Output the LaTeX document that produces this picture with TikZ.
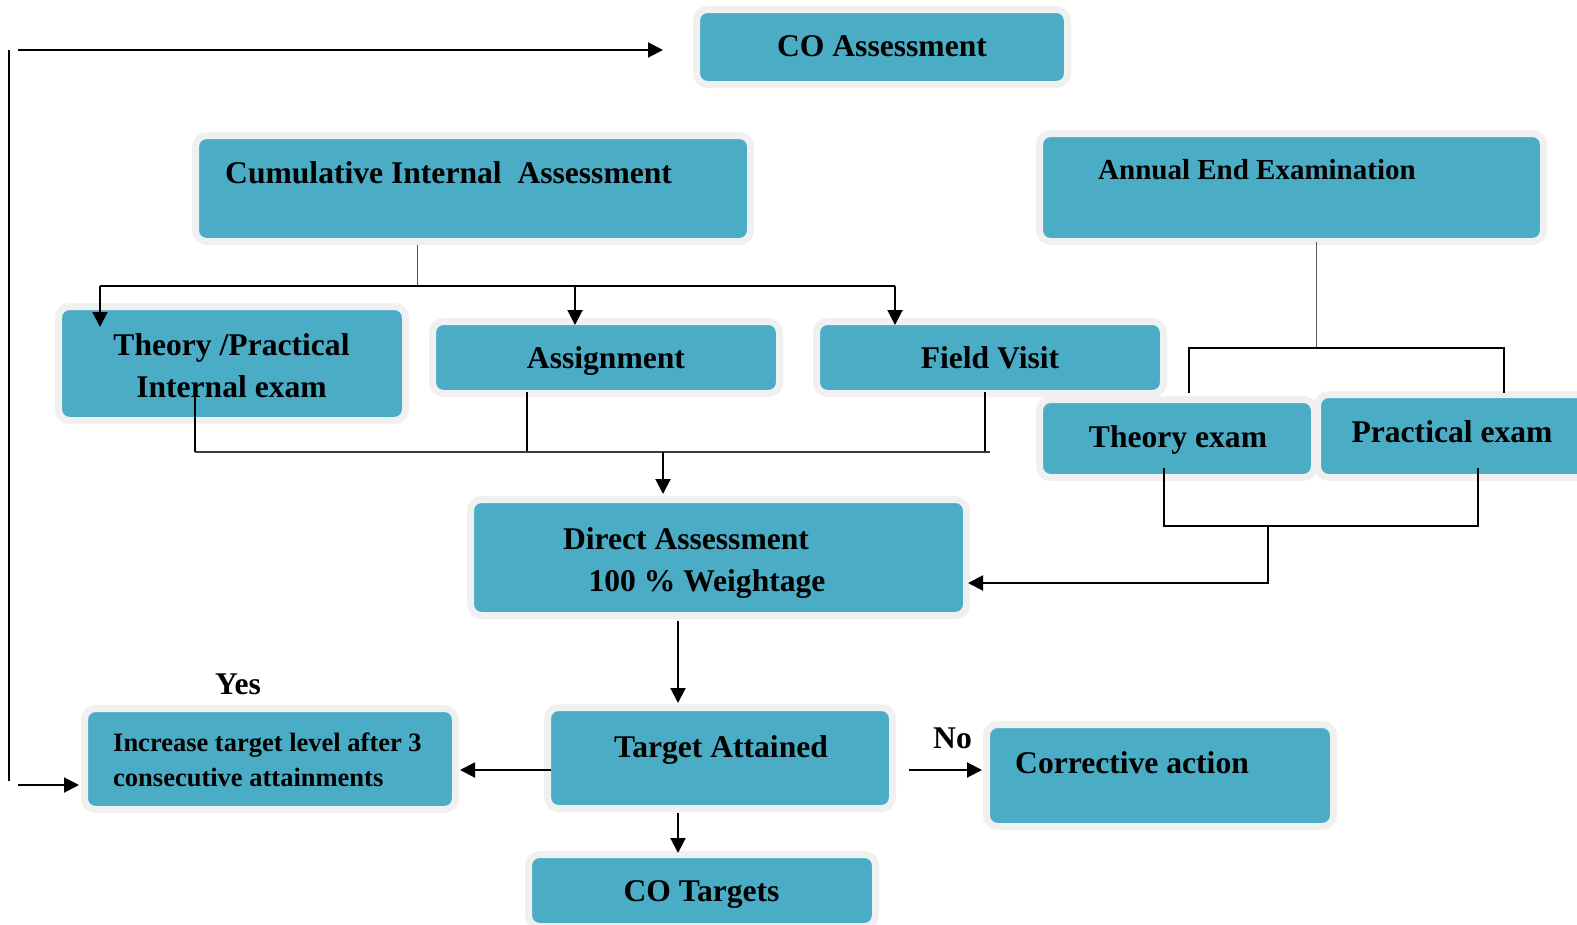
\documentclass[tikz,border=0pt]{standalone}
\usepackage{fontspec}
\setmainfont{Liberation Serif}
\usetikzlibrary{arrows.meta}

\definecolor{boxfill}{HTML}{4BACC6}
\definecolor{boxrim}{HTML}{F0F0F0}
\definecolor{stemgray}{HTML}{555555}
\definecolor{bargray}{HTML}{3A3A3A}

\tikzset{
  box/.style={draw=boxrim, fill=boxfill, line width=7pt, rounded corners=11pt,
              inner sep=0pt, outer sep=0pt},
  lbl/.style={font=\bfseries\fontsize{31.6}{36}\selectfont, inner sep=0pt, anchor=base},
  lblw/.style={lbl, anchor=base west},
  arr/.style={draw=black, line width=2pt, -{Triangle[length=15pt,width=15pt]}},
  bar/.style={draw=black, line width=2pt},
  drop/.style={draw=black, line width=1.5pt},
  stem/.style={draw=stemgray, line width=1pt},
  hub/.style={draw=bargray, line width=2pt},
}

% box from inner corner (x1,y1) to (x2,y2), rim drawn outside
\newcommand\flowbox[5]{%
  \node[box, minimum width={(#4)-(#2)+7}, minimum height={(#5)-(#3)+7}]
    (#1) at ({((#2)+(#4))/2},{((#3)+(#5))/2}) {};}

\begin{document}
\begin{tikzpicture}[x=1pt, y=-1pt]
\useasboundingbox (0,0) rectangle (1577,924);

% ---- boxes
\flowbox{co}{700}{13}{1064}{81}
\flowbox{cum}{199}{139}{747}{238}
\flowbox{ann}{1043}{137}{1540}{238}
\flowbox{tp}{62}{310}{402}{417}
\flowbox{asg}{436}{325}{776}{390}
\flowbox{fv}{820}{325}{1160}{390}
\flowbox{te}{1043}{403}{1311}{474}
\flowbox{pe}{1321}{398}{1610}{474}
\flowbox{da}{474}{503}{963}{612}
\flowbox{ta}{551}{711}{889}{805}
\flowbox{ca}{990}{728}{1330}{823}
\flowbox{inc}{88}{712}{452}{806}
\flowbox{cot}{532}{858}{872}{923}

% ---- texts
\node[lbl] (co-t) at (882,56) {CO Assessment};
\node[lblw] (cum-t) at (225,183.5) {Cumulative Internal\ \ Assessment};
\node[lblw, font=\bfseries\fontsize{29}{34}\selectfont] (ann-t) at (1098,179) {Annual End Examination};
\node[lbl] (tp-a) at (231.5,355) {Theory /Practical};
\node[lbl] (tp-b) at (231.5,397) {Internal exam};
\node[lbl] (asg-t) at (606,368.5) {Assignment};
\node[lbl] (fv-t) at (990,368.5) {Field Visit};
\node[lbl] (te-t) at (1178,447) {Theory exam};
\node[lbl] (pe-t) at (1452,442) {Practical exam};
\node[lbl] (da-a) at (686,549) {Direct Assessment};
\node[lbl] (da-b) at (707,591) {100 \% Weightage};
\node[lbl] (ta-t) at (721,757) {Target Attained};
\node[lblw] (ca-t) at (1015,773) {Corrective action};
\node[lblw, font=\bfseries\fontsize{26.5}{30}\selectfont] (inc-a) at (113,751) {Increase target level after 3};
\node[lblw, font=\bfseries\fontsize{26.5}{30}\selectfont] (inc-b) at (113,786) {consecutive attainments};
\node[lbl] (cot-t) at (701.5,901) {CO Targets};
\node[lblw] (yes) at (215,694) {Yes};
\node[lblw] (no) at (933,748) {No};

% ---- split below the internal assessment
\coordinate (cj) at (417,286);
\coordinate (cl) at (100,286);
\coordinate (cm) at (575,286);
\coordinate (cr) at (895,286);
\draw[stem] ([yshift=-3.5pt]cj |- cum.south) -- (cj);
\draw[bar] (cl) -- (cr);
\draw[arr] (cl) -- ([yshift=-20.5pt]cl |- tp.north);
\draw[arr] (cm) -- ([yshift=-3.5pt]cm |- asg.north);
\draw[arr] (cr) -- ([yshift=-3.5pt]cr |- fv.north);

% ---- merge into direct assessment
\coordinate (b1) at (195,452);
\coordinate (b2) at (527,452);
\coordinate (b3) at (985,452);
\coordinate (b4) at (990,452);
\coordinate (bm) at (663,452);
\draw[drop] ([yshift=27.5pt]b1 |- tp.south) -- (b1);
\draw[drop] ([yshift=1.5pt]b2 |- asg.south) -- (b2);
\draw[drop] ([yshift=1.5pt]b3 |- fv.south) -- (b3);
\draw[hub] (b1) -- (b4);
\draw[arr] (bm) -- ([yshift=5.5pt]bm |- da.north);

% ---- annual examination split
\coordinate (a0) at (1316,348);
\coordinate (a1) at (1189,348);
\coordinate (a2) at (1504,348);
\draw[stem] ([yshift=-0.5pt]a0 |- ann.south) -- (a0);
\draw[bar] ([yshift=6.5pt]a1 |- te.north) -- (a1) -- (a2) -- ([yshift=1.5pt]a2 |- pe.north);

% ---- exams merge into direct assessment
\coordinate (e1) at (1164,526);
\coordinate (e2) at (1478,526);
\coordinate (e0) at (1268,526);
\coordinate (e3) at (1268,583);
\draw[bar] ([yshift=9.5pt]e1 |- te.south) -- (e1) -- (e2) -- ([yshift=9.5pt]e2 |- pe.south);
\draw[arr] (e0) -- (e3) -- ([xshift=1.5pt]e3 -| da.east);

% ---- decision flow
\coordinate (dt) at (678,660);
\draw[arr] ([yshift=-5.5pt]dt |- da.south) -- ([yshift=4.5pt]dt |- ta.north);
\coordinate (ty) at (500,770);
\draw[arr] ([xshift=3.5pt]ty -| ta.west) -- ([xshift=4.5pt]ty -| inc.east);
\coordinate (tn) at (940,770);
\draw[arr] ([xshift=16.5pt]tn -| ta.east) -- ([xshift=-4.5pt]tn -| ca.west);
\coordinate (tc) at (678,830);
\draw[arr] ([yshift=-4.5pt]tc |- ta.south) -- ([yshift=1.5pt]tc |- cot.north);

% ---- feedback loop on the left
\coordinate (l1) at (9,50);
\coordinate (l2) at (9,781);
\coordinate (l3) at (18,50);
\coordinate (l4) at (18,785);
\draw[drop] (l1) -- (l2);
\draw[arr] (l3) -- ([xshift=-33.5pt]l3 -| co.west);
\draw[arr] (l4) -- ([xshift=-5.5pt]l4 -| inc.west);
\end{tikzpicture}
\end{document}
